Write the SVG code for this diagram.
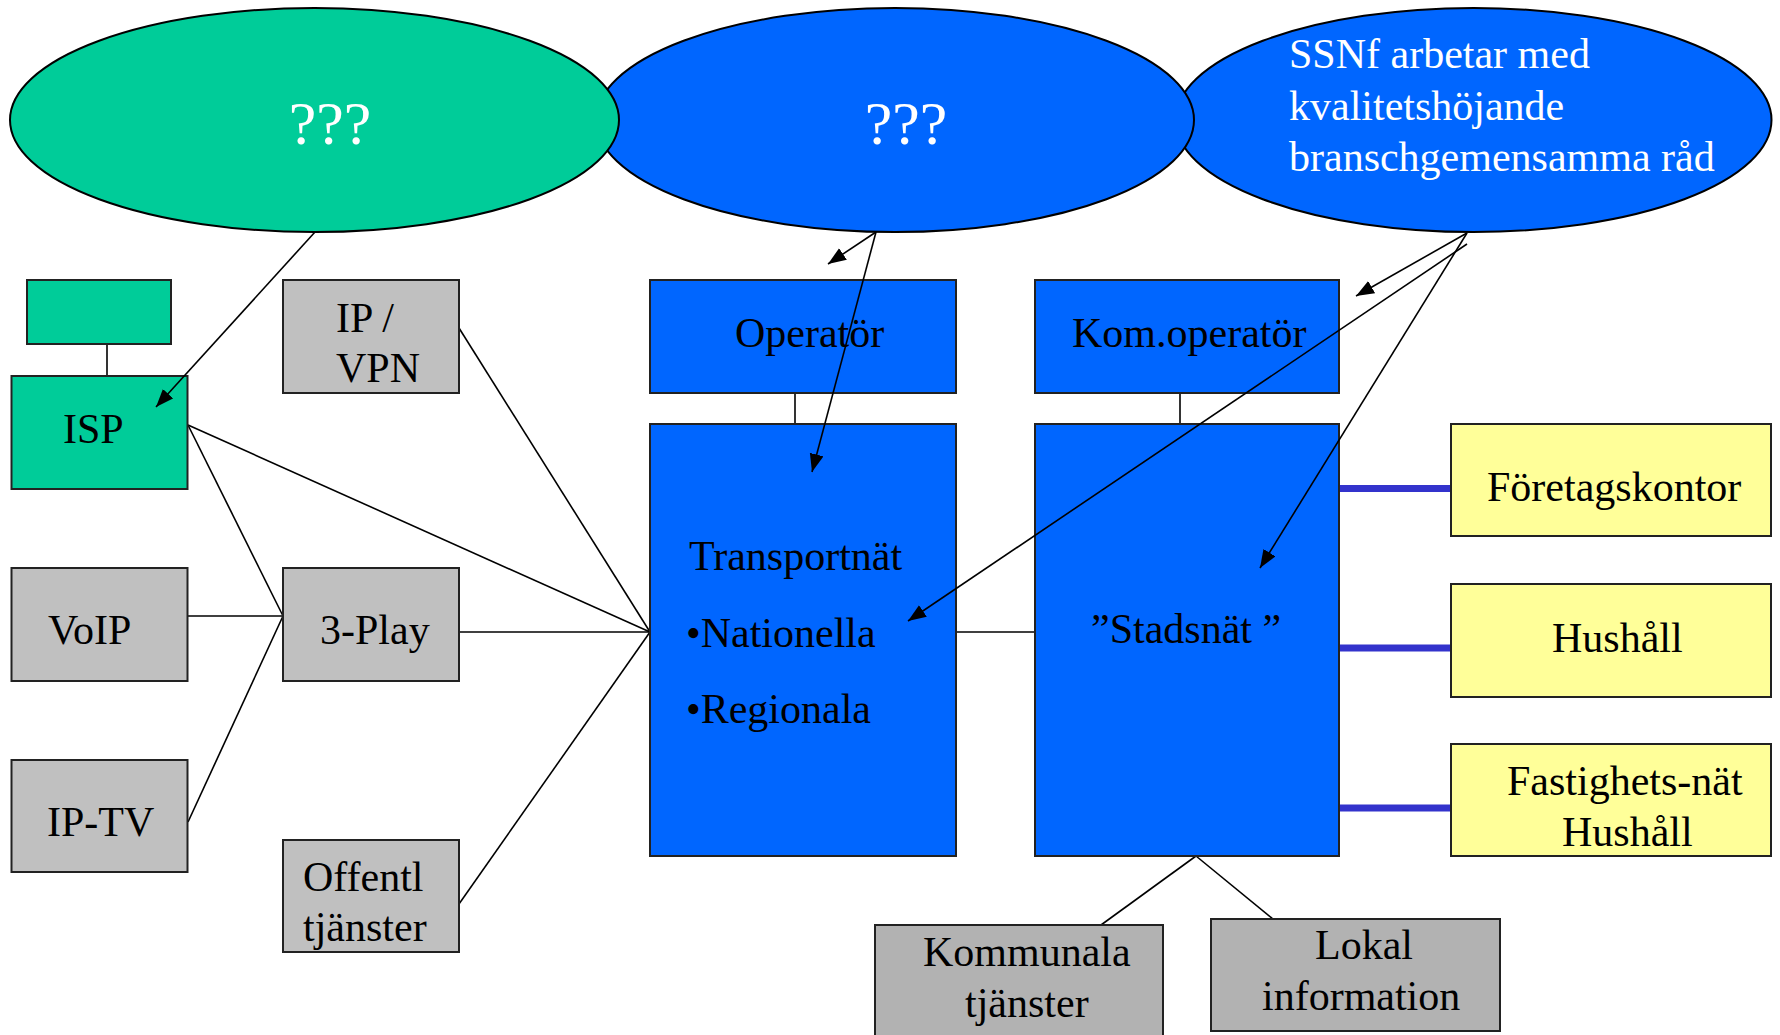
<svg xmlns="http://www.w3.org/2000/svg" width="1780" height="1035" viewBox="0 0 1780 1035">
<style>
text{font-family:"Liberation Serif","Times New Roman",serif;font-size:42px;fill:#000}
.w{fill:#fff}
.big{font-size:62px}
.el{stroke:#000;stroke-width:2}
.bx{stroke:#222;stroke-width:2}
.g{fill:#00CC99}.b{fill:#0066FF}.gr{fill:#C0C0C0}.dg{fill:#B2B2B2}.y{fill:#FFFF99}
.ln{stroke:#000;stroke-width:1.6;fill:none}
.ar{stroke:#000;stroke-width:1.6;fill:none;marker-end:url(#ah)}
.th{stroke:#3333CC;stroke-width:7;fill:none}
</style>
<defs>
<marker id="ah" markerUnits="userSpaceOnUse" markerWidth="20" markerHeight="16" refX="18" refY="7" orient="auto">
<path d="M0,0 L18,7 L0,14 Z" fill="#000"/>
</marker>
</defs>
<rect width="1780" height="1035" fill="#fff"/>
<g id="ellipse-ssnf"><ellipse class="el b" cx="1473.5" cy="120" rx="298" ry="112"/>
<text class="w" x="1289" y="68">SSNf arbetar med</text>
<text class="w" x="1289" y="120">kvalitetshöjande</text>
<text class="w" x="1289" y="171">branschgemensamma råd</text></g>
<g id="ellipse-blue"><ellipse class="el b" cx="895" cy="120" rx="299" ry="112"/>
<text class="w big" x="906" y="144" text-anchor="middle">???</text></g>
<g id="ellipse-green"><ellipse class="el g" cx="314.5" cy="120" rx="304.5" ry="112"/>
<text class="w big" x="330" y="144" text-anchor="middle">???</text></g>
<g id="connectors">
<line class="ln" x1="107" y1="344" x2="107" y2="376"/>
<line class="ln" x1="795" y1="393" x2="795" y2="424"/>
<line class="ln" x1="1180" y1="393" x2="1180" y2="424"/>
<line class="ln" x1="188" y1="425" x2="650" y2="632"/>
<line class="ln" x1="188" y1="425" x2="283" y2="616"/>
<line class="ln" x1="188" y1="616" x2="283" y2="616"/>
<line class="ln" x1="188" y1="822" x2="283" y2="616"/>
<line class="ln" x1="459" y1="328" x2="650" y2="632"/>
<line class="ln" x1="459" y1="632" x2="650" y2="632"/>
<line class="ln" x1="459" y1="904" x2="650" y2="632"/>
<line class="ln" x1="956" y1="632" x2="1035" y2="632"/>
<line class="ln" x1="1196" y1="856" x2="1101" y2="925"/>
<line class="ln" x1="1196" y1="856" x2="1273" y2="919"/>
<line class="th" x1="1340" y1="488.5" x2="1451" y2="488.5"/>
<line class="th" x1="1340" y1="648" x2="1451" y2="648"/>
<line class="th" x1="1340" y1="808" x2="1451" y2="808"/>
</g>
<g id="isp-top"><rect class="bx g" x="27" y="280" width="144" height="64"/></g>
<g id="isp"><rect class="bx g" x="11.5" y="376" width="176" height="113"/><text x="63" y="443">ISP</text></g>
<g id="ipvpn"><rect class="bx gr" x="283" y="280" width="176" height="113"/><text x="336" y="332">IP /</text><text x="336" y="382">VPN</text></g>
<g id="voip"><rect class="bx gr" x="11.5" y="568" width="176" height="113"/><text x="48" y="644">VoIP</text></g>
<g id="iptv"><rect class="bx gr" x="11.5" y="760" width="176" height="112"/><text x="47" y="836">IP-TV</text></g>
<g id="3play"><rect class="bx gr" x="283" y="568" width="176" height="113"/><text x="320" y="644">3-Play</text></g>
<g id="offentl"><rect class="bx gr" x="283" y="840" width="176" height="112"/><text x="303" y="891">Offentl</text><text x="303" y="941">tjänster</text></g>
<g id="operator"><rect class="bx b" x="650" y="280" width="306" height="113"/><text x="735" y="347">Operatör</text></g>
<g id="transportnat"><rect class="bx b" x="650" y="424" width="306" height="432"/><text x="689" y="570">Transportnät</text><text x="686" y="647">•Nationella</text><text x="686" y="723">•Regionala</text></g>
<g id="komoperator"><rect class="bx b" x="1035" y="280" width="304" height="113"/><text x="1072" y="347">Kom.operatör</text></g>
<g id="stadsnat"><rect class="bx b" x="1035" y="424" width="304" height="432"/><text x="1091" y="643">”Stadsnät ”</text></g>
<g id="foretagskontor"><rect class="bx y" x="1451" y="424" width="320" height="112"/><text x="1487" y="501">Företagskontor</text></g>
<g id="hushall"><rect class="bx y" x="1451" y="584" width="320" height="113"/><text x="1552" y="652">Hushåll</text></g>
<g id="fastighetsnat"><rect class="bx y" x="1451" y="744" width="320" height="112"/><text x="1507" y="795">Fastighets-nät</text><text x="1562" y="846">Hushåll</text></g>
<g id="kommunala"><rect class="bx dg" x="875" y="925" width="288" height="120"/><text x="923" y="966">Kommunala</text><text x="965" y="1017">tjänster</text></g>
<g id="lokal"><rect class="bx dg" x="1211" y="919" width="289" height="112"/><text x="1315" y="959">Lokal</text><text x="1262" y="1010">information</text></g>
<g id="arrows">
<line class="ar" x1="315" y1="232" x2="156" y2="407"/>
<line class="ar" x1="876" y1="232" x2="828" y2="264"/>
<line class="ar" x1="876" y1="232" x2="812" y2="472"/>
<line class="ar" x1="1467" y1="233" x2="1356" y2="296"/>
<line class="ar" x1="1467" y1="244" x2="908" y2="621"/>
<line class="ar" x1="1467" y1="233" x2="1260" y2="568"/>
</g>
</svg>
